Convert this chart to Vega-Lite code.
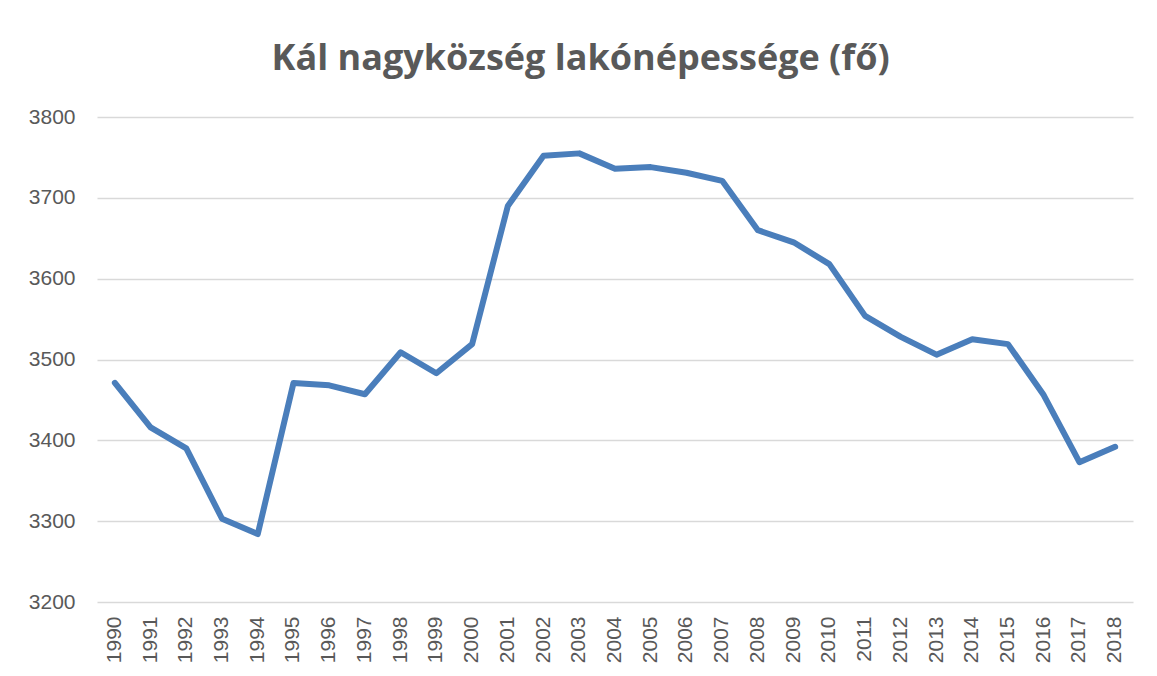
{
  "$schema": "https://vega.github.io/schema/vega-lite/v6.json",
  "autosize": {"type": "none"},
  "width": 1036,
  "height": 485,
  "padding": {"left": 97, "top": 117, "right": 24, "bottom": 74},
  "background": "white",
  "title": {
    "text": "Kál nagyközség lakónépessége (fő)",
    "fontSize": 36,
    "font": "Open Sans",
    "fontWeight": "bold",
    "color": "#595959",
    "anchor": "middle",
    "frame": "bounds",
    "offset": 28
  },
  "data": {
    "values": [
      {"ev": "1990", "lakos": 3471},
      {"ev": "1991", "lakos": 3416},
      {"ev": "1992", "lakos": 3390},
      {"ev": "1993", "lakos": 3303},
      {"ev": "1994", "lakos": 3284},
      {"ev": "1995", "lakos": 3471},
      {"ev": "1996", "lakos": 3468},
      {"ev": "1997", "lakos": 3457},
      {"ev": "1998", "lakos": 3509},
      {"ev": "1999", "lakos": 3483},
      {"ev": "2000", "lakos": 3519},
      {"ev": "2001", "lakos": 3690},
      {"ev": "2002", "lakos": 3752},
      {"ev": "2003", "lakos": 3755},
      {"ev": "2004", "lakos": 3736},
      {"ev": "2005", "lakos": 3738},
      {"ev": "2006", "lakos": 3731},
      {"ev": "2007", "lakos": 3721},
      {"ev": "2008", "lakos": 3660},
      {"ev": "2009", "lakos": 3645},
      {"ev": "2010", "lakos": 3618},
      {"ev": "2011", "lakos": 3554},
      {"ev": "2012", "lakos": 3528},
      {"ev": "2013", "lakos": 3506},
      {"ev": "2014", "lakos": 3525},
      {"ev": "2015", "lakos": 3519},
      {"ev": "2016", "lakos": 3456},
      {"ev": "2017", "lakos": 3373},
      {"ev": "2018", "lakos": 3392}
    ]
  },
  "mark": {"type": "line", "color": "#4a7ebb", "strokeWidth": 6, "strokeJoin": "round", "strokeCap": "round"},
  "encoding": {
    "x": {
      "field": "ev",
      "type": "ordinal",
      "scale": {"type": "band", "paddingInner": 0, "paddingOuter": 0},
      "axis": {
        "title": null,
        "labelAngle": -90,
        "labelFontSize": 21,
        "labelFont": "Liberation Sans",
        "labelColor": "#595959",
        "labelPadding": 14,
        "ticks": false,
        "domain": false,
        "grid": false
      }
    },
    "y": {
      "field": "lakos",
      "type": "quantitative",
      "scale": {"domain": [3200, 3800], "nice": false, "zero": false},
      "axis": {
        "title": null,
        "format": "d",
        "values": [3200, 3300, 3400, 3500, 3600, 3700, 3800],
        "labelFontSize": 21,
        "labelFont": "Liberation Sans",
        "labelColor": "#595959",
        "labelPadding": 22,
        "ticks": false,
        "domain": false,
        "grid": true,
        "gridColor": "#d9d9d9",
        "gridWidth": 1.5
      }
    }
  },
  "config": {"view": {"stroke": null}}
}
